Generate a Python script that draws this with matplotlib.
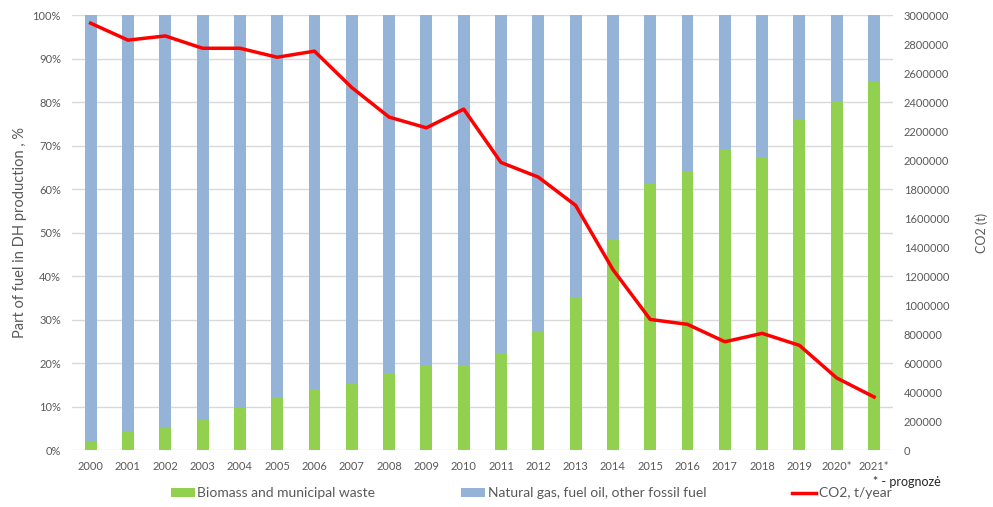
import numpy as np
import matplotlib
matplotlib.use("Agg")
import matplotlib.pyplot as plt
from matplotlib.patches import Patch
from matplotlib.lines import Line2D
from matplotlib.ticker import FuncFormatter, MultipleLocator

plt.rcParams['font.family'] = ['Lato', 'DejaVu Sans']

# Data
years = ['2000', '2001', '2002', '2003', '2004', '2005', '2006', '2007', '2008', '2009', '2010',
         '2011', '2012', '2013', '2014', '2015', '2016', '2017', '2018', '2019', '2020*', '2021*']
biomass = [1.9, 4.2, 5.1, 7.0, 9.8, 12.2, 14.1, 15.2, 17.6, 19.3, 19.5,
           22.4, 27.3, 35.0, 48.6, 61.2, 64.1, 69.3, 67.4, 76.1, 80.0, 84.7]
fossil = [100 - b for b in biomass]
co2 = [2945000, 2828000, 2857000, 2772000, 2772000, 2710000, 2752000, 2501000, 2297000, 2223000, 2352000,
       1984000, 1883000, 1688000, 1245000, 901000, 867000, 747000, 805000, 722000, 497000, 366000]

green = '#92D050'
blue = '#95B3D7'
red = '#FF0000'
txt = '#595959'

fig = plt.figure(figsize=(9.93, 5.07), dpi=100)
ax = fig.add_axes([0.0725, 0.1124, 0.8265, 0.8576])
x = np.arange(len(years))

ax.bar(x, biomass, width=0.32, color=green, zorder=2)
ax.bar(x, fossil, width=0.32, bottom=biomass, color=blue, zorder=2)

ax.set_xlim(-0.5, len(years) - 0.5)
ax.set_ylim(0, 100)
ax.yaxis.set_major_locator(MultipleLocator(10))
ax.yaxis.set_major_formatter(FuncFormatter(lambda v, p: f'{int(v)}%'))
ax.set_xticks(x)
ax.set_xticklabels(years)
ax.grid(axis='y', color='#D9D9D9', linewidth=1, zorder=0)
ax.tick_params(axis='both', length=0, labelsize=8, colors=txt, pad=8)
for s in ax.spines.values():
    s.set_visible(False)
ax.set_ylabel('Part of fuel in DH production , %', fontsize=10.5, color=txt, labelpad=4)

ax2 = ax.twinx()
ax2.plot(x, co2, color=red, linewidth=2.5, zorder=3)
ax2.set_ylim(0, 3000000)
ax2.yaxis.set_major_locator(MultipleLocator(200000))
ax2.yaxis.set_major_formatter(FuncFormatter(lambda v, p: f'{int(v)}'))
ax2.tick_params(axis='y', length=0, labelsize=8, colors=txt, pad=8)
for s in ax2.spines.values():
    s.set_visible(False)
ax2.set_ylabel('CO2 (t)', fontsize=9, color=txt, labelpad=19)

handles = [Patch(facecolor=green), Patch(facecolor=blue), Line2D([0], [0], color=red, linewidth=2.5)]
labels = ['Biomass and municipal waste', 'Natural gas, fuel oil, other fossil fuel', 'CO2, t/year']
fig.legend(handles, labels, loc='center', bbox_to_anchor=(0.535, 0.027), ncol=3, frameon=False,
           fontsize=10, labelcolor=txt, columnspacing=6.2, handlelength=1.7, handleheight=0.6,
           handletextpad=0.2)

fig.text(0.879, 0.05, '* - prognozė', fontsize=9, color='#262626', ha='left', va='center')

fig.savefig('out.png', dpi=100)
